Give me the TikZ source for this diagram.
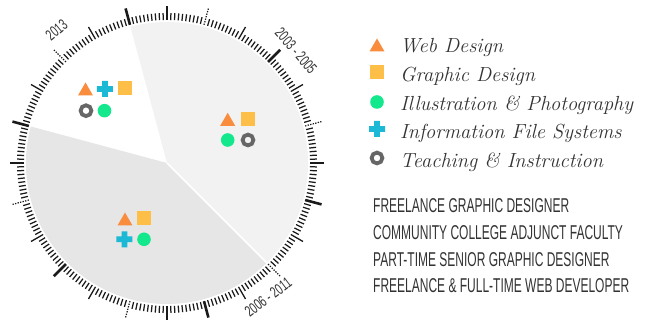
\documentclass[tikz,border=0pt]{standalone}
\usepackage{fontspec}
\usepackage{xcolor}
\newfontfamily\narrowfont[FakeStretch=0.6]{Liberation Sans}
\newfontfamily\yearfont[FakeStretch=0.66]{Liberation Sans}

\definecolor{webcol}{HTML}{F98D3D}
\definecolor{graphcol}{HTML}{FDBF47}
\definecolor{illucol}{HTML}{14E88D}
\definecolor{infocol}{HTML}{1BB9D5}
\definecolor{teachcol}{HTML}{666666}
\definecolor{inkcol}{HTML}{333333}
\definecolor{tickcol}{HTML}{1A1A1A}
\definecolor{sliceA}{HTML}{F2F2F2}
\definecolor{sliceB}{HTML}{E6E6E6}

\tikzset{
	web/.pic={\fill[webcol] (-7.5pt,-6.5pt) -- (7.5pt,-6.5pt) -- (0pt,6.5pt) -- cycle;},
	graphic/.pic={\fill[graphcol] (-7pt,-7pt) rectangle (7pt,7pt);},
	illu/.pic={\fill[illucol] (0pt,0pt) circle (6.8pt);},
	info/.pic={\fill[infocol] (-8pt,-2.8pt) rectangle (8pt,2.8pt) (-2.8pt,-8pt) rectangle (2.8pt,8pt);},
	teach/.pic={\draw[teachcol, line width=3.8pt] (0pt,0pt) circle (5.4pt);},
	minortick/.style={tickcol, line width=1.25pt},
	midtick/.style={tickcol, line width=1.3pt},
	boldtick/.style={tickcol, line width=2.6pt},
	dottick/.style={tickcol, line width=1.2pt, dash pattern=on 1.3pt off 1.3pt},
	legend/.style={anchor=base west, inner sep=0pt, text=inkcol, font=\fontsize{20.4}{24}\selectfont\itshape},
	role/.style={anchor=base west, inner sep=0pt, text=inkcol, font=\narrowfont\fontsize{20}{24}\selectfont},
	year/.style={inner sep=0pt, text=inkcol, font=\yearfont\fontsize{15.5}{17}\selectfont}
}

\begin{document}
\begin{tikzpicture}[x=1pt, y=1pt]
	\useasboundingbox (-167,-157) rectangle (486,163);
	\fill[white] (-167,-157) rectangle (486,163);
	\coordinate (hub) at (0,0);

	% slices
	\fill[sliceA] (hub) -- (-45:141) arc[start angle=-45, end angle=105, radius=141pt] -- cycle;
	\fill[sliceB] (hub) -- (165:141) arc[start angle=165, end angle=315, radius=141pt] -- cycle;
	\draw[white, line width=1.5pt] (hub) -- (-45:141);

	% dial
	\foreach \m in {0,15,...,345}
		\foreach \k in {1,...,9}
			\draw[minortick] ({\m+1.5*\k}:143) -- ({\m+1.5*\k}:150);
	\foreach \a in {90,60,...,-240}
		\draw[midtick] (\a:143) -- (\a:157);
	\foreach \a in {45,-15,...,-255}
		\draw[boldtick] (\a:143) -- (\a:160);
	\foreach \a in {75,15,...,-225}
		\draw[dottick] (\a:143) -- (\a:160);

	\node[year, rotate=39.7] (y2013) at (129.7:173) {2013};
	\node[year, rotate=-49] (y2003) at (41:171) {2003 - 2005};
	\node[year, rotate=37] (y2006) at (-53:168) {2006 - 2011};

	% 2013
	\pic at (-81.5,74) {web};
	\pic at (-62,74) {info};
	\pic at (-42,74.5) {graphic};
	\pic at (-81,52.3) {teach};
	\pic at (-62.5,52.3) {illu};

	% 2003 - 2005
	\pic at (60.7,43.7) {web};
	\pic at (80.7,44) {graphic};
	\pic at (60.7,23) {illu};
	\pic at (81,23) {teach};

	% 2006 - 2011
	\pic at (-42,-56) {web};
	\pic at (-23,-55.3) {graphic};
	\pic at (-42.5,-76.3) {info};
	\pic at (-23,-76.3) {illu};

	% legend
	\pic at (210,118) {web};
	\pic at (210,90.5) {graphic};
	\pic at (210,61) {illu};
	\pic at (210,34) {info};
	\pic at (210,5) {teach};
	\node[legend] (webtxt) at (233,110.3) {Web Design};
	\node[legend] (graphtxt) at (233,81.6) {Graphic Design};
	\node[legend] (illutxt) at (233,52.9) {Illustration \& Photography};
	\node[legend] (infotxt) at (233,24.2) {Information File Systems};
	\node[legend] (teachtxt) at (233,-4.5) {Teaching \& Instruction};

	% roles
	\node[role] (role1) at (206,-50) {FREELANCE GRAPHIC DESIGNER};
	\node[role] (role2) at (206,-77) {COMMUNITY COLLEGE ADJUNCT FACULTY};
	\node[role] (role3) at (206,-104) {PART-TIME SENIOR GRAPHIC DESIGNER};
	\node[role] (role4) at (206,-130) {FREELANCE \& FULL-TIME WEB DEVELOPER};
\end{tikzpicture}
\end{document}
